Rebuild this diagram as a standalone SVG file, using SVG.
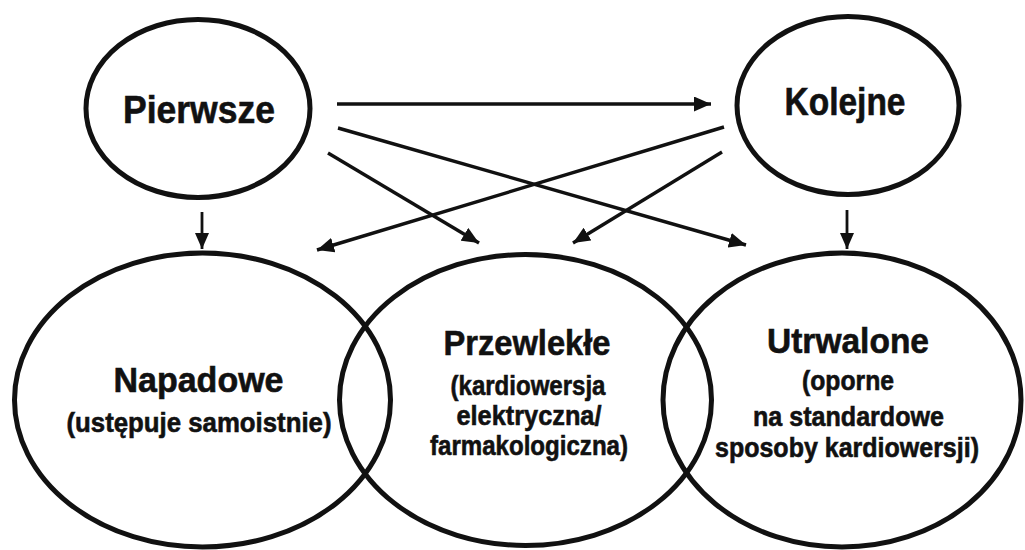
<svg xmlns="http://www.w3.org/2000/svg" width="1025" height="550" viewBox="0 0 1025 550">
<style>
.node{fill:none;stroke:#111;stroke-width:5}
.con{fill:none;stroke:#111;stroke-width:3.4}
.vcon{fill:none;stroke:#111;stroke-width:2.8}
text{font-family:"Liberation Sans",Arial,Helvetica,sans-serif;font-weight:bold;fill:#111;stroke:#111;stroke-width:0.6;text-anchor:middle}
.t1{font-size:39px}
.t2{font-size:35px}
.t3{font-size:28px}
</style>
<defs>
<marker id="ah" viewBox="0 0 17 15" refX="17" refY="7.5" markerWidth="17" markerHeight="15" markerUnits="userSpaceOnUse" orient="auto">
<path d="M0,0 L17,7.5 L0,15 z" fill="#111"/>
</marker>
<marker id="ahs" viewBox="0 0 16 14" refX="16" refY="7" markerWidth="16" markerHeight="14" markerUnits="userSpaceOnUse" orient="auto">
<path d="M0,0 L16,7 L0,14 z" fill="#111"/>
</marker>
</defs>
<rect width="1025" height="550" fill="#fff"/>
<g id="connectors">
<path class="con" d="M337,104 L711,104" marker-end="url(#ah)"/>
<path class="con" d="M338,128 L746,245" marker-end="url(#ah)"/>
<path class="con" d="M328,153 L479,243" marker-end="url(#ah)"/>
<path class="vcon" d="M202,212 L202,249" marker-end="url(#ahs)"/>
<path class="con" d="M724,127 L317,250" marker-end="url(#ah)"/>
<path class="con" d="M722,152 L573,243" marker-end="url(#ah)"/>
<path class="vcon" d="M847,210 L847,249" marker-end="url(#ahs)"/>
</g>
<g id="pierwsze">
<ellipse class="node" cx="198" cy="108.5" rx="112" ry="89"/>
<text class="t1" x="199" y="123" textLength="152" lengthAdjust="spacingAndGlyphs">Pierwsze</text>
</g>
<g id="kolejne">
<ellipse class="node" cx="848" cy="105.5" rx="111" ry="89"/>
<text class="t1" x="845" y="115" textLength="121" lengthAdjust="spacingAndGlyphs">Kolejne</text>
</g>
<g id="napadowe">
<ellipse class="node" cx="202.5" cy="400" rx="188" ry="147"/>
<text class="t2" x="198.5" y="392" textLength="170" lengthAdjust="spacingAndGlyphs">Napadowe</text>
<text class="t3" x="199" y="432" textLength="265" lengthAdjust="spacingAndGlyphs">(ustępuje samoistnie)</text>
</g>
<g id="przewlekle">
<ellipse class="node" cx="525.5" cy="400" rx="186" ry="145.5"/>
<text class="t2" x="527" y="355" textLength="167" lengthAdjust="spacingAndGlyphs">Przewlekłe</text>
<text class="t3" x="528" y="395" textLength="155" lengthAdjust="spacingAndGlyphs">(kardiowersja</text>
<text class="t3" x="529" y="425" textLength="145" lengthAdjust="spacingAndGlyphs">elektryczna/</text>
<text class="t3" x="529" y="455" textLength="198" lengthAdjust="spacingAndGlyphs">farmakologiczna)</text>
</g>
<g id="utrwalone">
<ellipse class="node" cx="842" cy="400" rx="179" ry="147"/>
<text class="t2" x="848" y="353" textLength="162" lengthAdjust="spacingAndGlyphs">Utrwalone</text>
<text class="t3" x="848" y="390" textLength="92" lengthAdjust="spacingAndGlyphs">(oporne</text>
<text class="t3" x="848.5" y="426" textLength="191" lengthAdjust="spacingAndGlyphs">na standardowe</text>
<text class="t3" x="847" y="457" textLength="264" lengthAdjust="spacingAndGlyphs">sposoby kardiowersji)</text>
</g>
</svg>
